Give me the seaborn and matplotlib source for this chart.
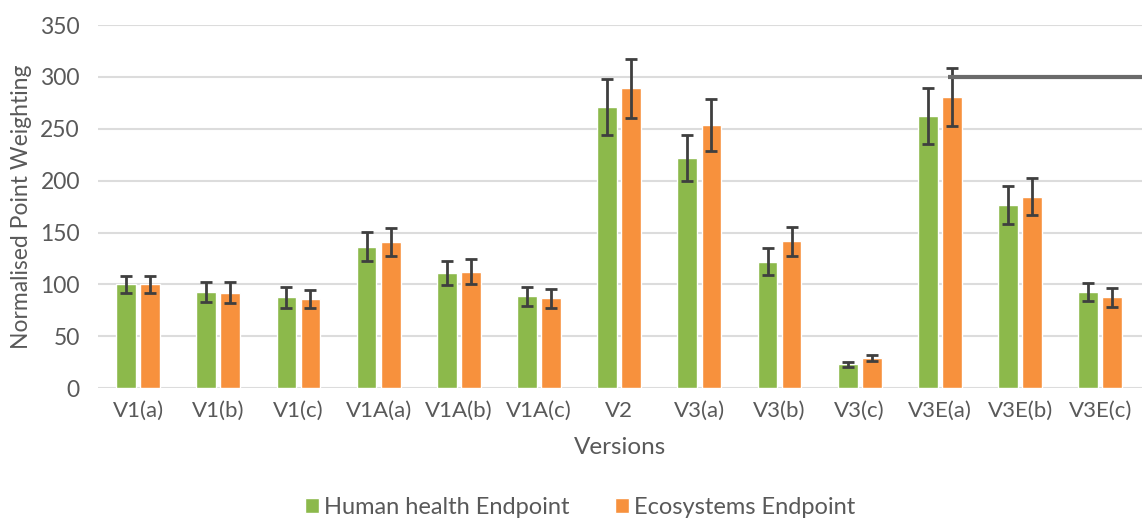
import numpy as np
import pandas as pd
import seaborn as sns
import matplotlib.pyplot as plt

versions = ["V1(a)", "V1(b)", "V1(c)", "V1A(a)", "V1A(b)", "V1A(c)", "V2",
            "V3(a)", "V3(b)", "V3(c)", "V3E(a)", "V3E(b)", "V3E(c)"]
human = [100, 92.5, 87.5, 136.5, 111, 88.5, 271, 222, 122, 23, 262, 176.5, 92.5]
human_err = [8, 9.5, 10, 14, 12, 9, 27, 22.5, 13, 2.5, 27, 18, 9]
eco = [100, 92, 86, 140.5, 112, 86.5, 289, 253.5, 141.5, 29, 280.5, 184.5, 87.5]
eco_err = [8, 10, 9, 13.5, 12, 9, 28.5, 25, 14, 3, 28, 18, 9]
series = ["Human health Endpoint", "Ecosystems Endpoint"]
colors = ["#8cb94b", "#f7913d"]

df = pd.DataFrame({
    "Version": versions * 2,
    "Value": human + eco,
    "Err": human_err + eco_err,
    "Series": [series[0]] * len(versions) + [series[1]] * len(versions),
})

sns.set_style("white")
plt.rcParams["font.family"] = ["Lato", "DejaVu Sans"]
text_col = "#595959"

fig = plt.figure(figsize=(11.42, 5.23), dpi=100)
ax = fig.add_axes([0.0858, 0.258, 0.9142, 0.694])

ax.yaxis.grid(True, color="#dcdcdc", linewidth=1.5)
ax.set_axisbelow(True)

sns.barplot(data=df, x="Version", y="Value", hue="Series", palette=colors,
            width=0.6, gap=0.18, errorbar=None, ax=ax, saturation=1)

# error bars on top of each bar
for cont, s in zip(ax.containers, series):
    sub = df[df["Series"] == s]
    xs = [p.get_x() + p.get_width() / 2 for p in cont.patches]
    ax.errorbar(xs, sub["Value"], yerr=sub["Err"], fmt="none",
                ecolor="#3f3f3f", elinewidth=2, capsize=4.5, capthick=2, zorder=5)

# stray line at 300 on the right
ax.hlines(300, 10.1, 13, color="#6b6b6b", linewidth=3, zorder=6)

ax.set_ylim(0, 350)
ax.set_xlim(-0.5, 12.52)
ax.set_yticks(range(0, 351, 50))
ax.tick_params(axis="x", labelsize=16, colors=text_col, length=0, pad=9)
ax.tick_params(axis="y", labelsize=16.5, colors=text_col, length=0, pad=13)
for sp in ax.spines.values():
    sp.set_visible(False)
ax.set_xlabel("Versions", fontsize=17.5, color=text_col, labelpad=12)
ax.set_ylabel("Normalised Point Weighting", fontsize=16.5, color=text_col, labelpad=6)

handles, labels = ax.get_legend_handles_labels()
ax.get_legend().remove()
fig.legend(handles, labels, loc="center", bbox_to_anchor=(0.508, 0.03), ncol=2,
           frameon=False, fontsize=17, labelcolor=text_col, handlelength=0.6,
           handleheight=0.6, handletextpad=0.2, columnspacing=1.95)

fig.savefig("out.png", dpi=100)
